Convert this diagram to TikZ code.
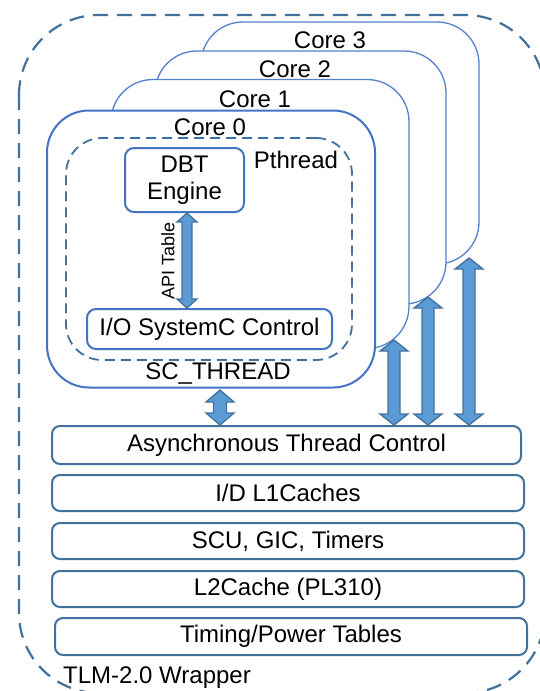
\documentclass[tikz,border=0pt]{standalone}
\usepackage{fontspec}
\setmainfont{Liberation Sans}
\usetikzlibrary{calc}
\definecolor{coreblue}{HTML}{4472C4}
\definecolor{backblue}{HTML}{5580CB}
\definecolor{boxblue}{HTML}{41719C}
\definecolor{arrfill}{HTML}{5B9BD5}
% #1 top tip, #2 bottom tip, #3 shaft half width, #4 head half width, #5 head length
\newcommand{\fatarrow}[5]{%
  \filldraw[fatarr] let \p1=(#1), \p2=(#2) in
  (\x1,\y1) -- (\x1+#4pt,\y1-#5pt) -- (\x1+#3pt,\y1-#5pt) -- (\x1+#3pt,\y2+#5pt)
  -- (\x1+#4pt,\y2+#5pt) -- (\x1,\y2) -- (\x1-#4pt,\y2+#5pt) -- (\x1-#3pt,\y2+#5pt)
  -- (\x1-#3pt,\y1-#5pt) -- (\x1-#4pt,\y1-#5pt) -- cycle;}
\tikzset{
  wrapper/.style={draw=boxblue, line width=2.2pt, rounded corners=80pt, dash pattern=on 15pt off 9pt},
  backcore/.style={draw=backblue, fill=white, line width=1.3pt, rounded corners=42pt, inner sep=0pt},
  frontcore/.style={draw=coreblue, fill=white, line width=2pt, rounded corners=42pt, inner sep=0pt},
  pthr/.style={draw=boxblue, line width=1.8pt, rounded corners=36pt, dash pattern=on 10pt off 6pt, inner sep=0pt},
  ibox/.style={draw=coreblue, fill=white, line width=2pt, rounded corners=9pt, inner sep=0pt},
  layer/.style={draw=boxblue, fill=white, line width=2pt, rounded corners=8pt, inner sep=0pt},
  fatarr/.style={fill=arrfill, draw=boxblue, line width=1.3pt, line join=miter},
  lbl/.style={inner sep=0pt}
}
\begin{document}
\begin{tikzpicture}[x=1pt, y=-1pt, font=\fontsize{24}{27}\selectfont]
\useasboundingbox (0,0) rectangle (540,691);
\begin{scope}
  \clip (0,0) rectangle (540,691);
  \draw[wrapper] (19,15) rectangle (545,693);
\end{scope}

% cores, back to front
\node[backcore, minimum width=278pt, minimum height=242pt] (core3) at (340,143) {};
\node[backcore, minimum width=291pt, minimum height=253pt] (core2) at (300.5,177.5) {};
\node[backcore, minimum width=298pt, minimum height=269pt] (core1) at (260,214) {};
\node[frontcore, minimum width=328pt, minimum height=277pt] (core0) at (211,249) {};

\node[lbl] (lc3) at (330,40) {Core 3};
\node[lbl] (lc2) at (295,69) {Core 2};
\node[lbl] (lc1) at (255,99) {Core 1};

% pthread
\node[pthr, minimum width=286pt, minimum height=222pt] (pthread) at (209,249) {};
\node[lbl] (lc0) at (210,127) {Core 0};
\node[lbl] (lpth) at (296,160) {Pthread};

\node[ibox, minimum width=119pt, minimum height=64pt, align=center] (dbt) at (184.5,180) {DBT\\Engine};
\node[ibox, minimum width=245pt, minimum height=40pt] (io) at (209.5,329) {I/O SystemC Control};
\node[lbl, rotate=90, font=\fontsize{18}{20}\selectfont] (api) at (168,261) {API Table};
\node[lbl] (scth) at (218,373) {SC\_THREAD};

% layers
\node[layer, minimum width=469pt, minimum height=38pt] (async) at (286.5,445) {Asynchronous Thread Control};
\node[layer, minimum width=472pt, minimum height=36pt] (idl1) at (288,493) {I/D L1Caches};
\node[layer, minimum width=472pt, minimum height=36pt] (scu) at (288,541) {SCU, GIC, Timers};
\node[layer, minimum width=472pt, minimum height=36pt] (l2) at (288,589) {L2Cache (PL310)};
\node[layer, minimum width=472pt, minimum height=37pt] (timing) at (291,636.5) {Timing/Power Tables};
\node[lbl, anchor=west] (tlm) at (63,678) {TLM-2.0 Wrapper};

% arrows
\coordinate (apit) at (187,213);
\coordinate (c0t) at (220,390);
\coordinate (c1t) at (394,340);
\coordinate (c2t) at (428,297);
\coordinate (c3t) at (469,258);
\fatarrow{apit}{apit |- io.north}{5}{10}{9}
\fatarrow{c0t}{c0t |- async.north}{6.5}{14}{12}
\fatarrow{c1t}{c1t |- async.north}{6}{14}{11}
\fatarrow{c2t}{c2t |- async.north}{6}{14}{11}
\fatarrow{c3t}{c3t |- async.north}{6}{14}{11}
\end{tikzpicture}
\end{document}
